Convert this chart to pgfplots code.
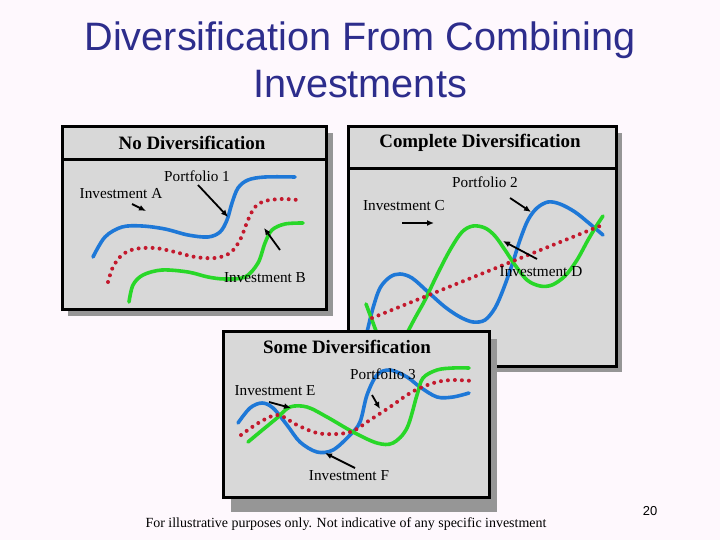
\documentclass[border=0pt]{standalone}
\usepackage{pgfplots}
\pgfplotsset{compat=1.18}
\usepackage{fontspec}
\setmainfont{Liberation Serif}
\newfontfamily\arialf{Liberation Sans}
\usetikzlibrary{arrows.meta}
\definecolor{bgc}{RGB}{254,248,253}
\definecolor{titleblue}{RGB}{45,45,140}
\definecolor{blueC}{RGB}{30,120,215}
\definecolor{greenC}{RGB}{40,215,40}
\definecolor{redC}{RGB}{195,25,45}
\definecolor{panelgray}{RGB}{216,216,216}
\definecolor{shadowgray}{RGB}{150,150,150}
\definecolor{barblue}{RGB}{40,40,130}
\definecolor{barpink}{RGB}{190,70,150}
\tikzset{
  curve/.style={line width=3.6bp, smooth, tension=0.55, line cap=round},
  dots/.style={redC, line width=4bp, dash pattern=on 0pt off 7bp, line cap=round, smooth, tension=0.55},
  arr/.style={line width=1.8bp, -{Latex[length=7bp,width=6bp]}},
  lab/.style={font=\fontsize{15.3}{18}\selectfont, inner sep=0pt},
  ptitle/.style={font=\bfseries\fontsize{19}{22}\selectfont, inner sep=0pt},
}
\begin{document}
\begin{tikzpicture}
\begin{axis}[
  scale only axis, width=720bp, height=540bp,
  xmin=0, xmax=720, ymin=0, ymax=540, y dir=reverse,
  hide axis, clip=false,
]
% background
\fill[bgc] (axis cs:0,0) rectangle (axis cs:720,540);
% title
\node[anchor=base, text=titleblue, font=\arialf\fontsize{39.8}{46}\selectfont, inner sep=0pt] at (axis cs:360,51) {Diversification From Combining};
\node[anchor=base, text=titleblue, font=\arialf\fontsize{39.8}{46}\selectfont, inner sep=0pt] at (axis cs:360,98) {Investments};
% gradient bars
\shade[left color=bgc, middle color=barblue, right color=bgc] (axis cs:0,112.5) rectangle (axis cs:720,118);
\shade[left color=bgc, middle color=barpink, right color=bgc] (axis cs:0,120) rectangle (axis cs:720,124.5);

% ---------- Panel 1 ----------
\fill[shadowgray] (axis cs:68,133) rectangle (axis cs:333,316);
\filldraw[fill=panelgray, draw=black, line width=3bp] (axis cs:62,127) rectangle (axis cs:326,309);
\draw[line width=3bp] (axis cs:62,160) -- (axis cs:326,160);
\node[ptitle] at (axis cs:192,143) {No Diversification};
\addplot[curve, blueC, no markers] coordinates {(93,257) (105,237) (122,227) (142,226) (165,229) (188,235) (208,237) (220,232) (227,220) (232,203) (238,188) (248,180) (265,177) (295,177)};
\addplot[dots, no markers] coordinates {(108,282) (113,267) (122,255) (135,249) (155,248) (175,252) (195,257) (215,258) (230,253) (240,240) (248,220) (255,207) (265,201) (282,199) (298,200)};
\addplot[curve, greenC, no markers] coordinates {(129,302) (133,285) (143,275) (162,270) (188,272) (208,277) (225,279) (245,277) (258,263) (265,243) (272,230) (285,224) (303,223)};
\node[lab] at (axis cs:197,176) {Portfolio 1};
\node[lab] at (axis cs:121,194) {Investment A};
\node[lab] at (axis cs:265,278) {Investment B};
\draw[arr] (axis cs:198,185) -- (axis cs:228,217);
\draw[arr] (axis cs:132,204) -- (axis cs:146,211);
\draw[arr] (axis cs:280,250) -- (axis cs:264,228);

% ---------- Panel 2 ----------
\fill[shadowgray] (axis cs:354,133) rectangle (axis cs:622,372);
\filldraw[fill=panelgray, draw=black, line width=3bp] (axis cs:348,127) rectangle (axis cs:616,366);
\draw[line width=3bp] (axis cs:348,169) -- (axis cs:616,169);
\node[ptitle] at (axis cs:480,143) {Complete Diversification};
\addplot[curve, blueC, no markers] coordinates {(364,345) (368,328) (373,308) (380,288) (390,277) (400,274) (412,278) (428,292) (445,307) (460,317) (473,322) (485,320) (495,308) (503,290) (512,265) (520,240) (528,220) (537,208) (548,202) (560,204) (575,212) (590,224) (603,235)};
\addplot[curve, greenC, no markers] coordinates {(366,304) (372,320) (378,335) (388,350) (398,348) (407,333) (415,318) (425,300) (437,275) (450,250) (462,232) (473,226) (485,228) (495,236) (505,250) (515,265) (527,280) (540,286) (552,285) (565,276) (577,260) (588,240) (597,225) (603,216)};
\addplot[dots, no markers] coordinates {(372,318) (486,272) (600,226)};
\node[lab] at (axis cs:485,182) {Portfolio 2};
\node[lab] at (axis cs:404,206) {Investment C};
\node[lab] at (axis cs:541,272) {Investment D};
\draw[arr] (axis cs:402,223) -- (axis cs:434,223);
\draw[arr] (axis cs:510,198) -- (axis cs:531,212);
\draw[arr] (axis cs:537,259) -- (axis cs:503,241);

% ---------- Panel 3 ----------
\fill[shadowgray] (axis cs:231,339) rectangle (axis cs:497,512);
\filldraw[fill=panelgray, draw=black, line width=3bp] (axis cs:223,331) rectangle (axis cs:489,497);
\node[ptitle] at (axis cs:347,347) {Some Diversification};
\addplot[curve, blueC, no markers] coordinates {(238,423) (250,408) (262,403) (273,408) (287,425) (300,442) (317,452) (333,450) (350,435) (360,422) (367,395) (377,375) (390,370) (407,377) (420,387) (437,397) (453,397) (469,393)};
\addplot[curve, greenC, no markers] coordinates {(248,442) (260,432) (277,418) (290,407) (307,407) (327,417) (353,432) (377,443) (393,443) (407,428) (417,395) (423,378) (437,370) (453,368) (469,368)};
\addplot[dots, no markers] coordinates {(241,435) (260,422) (278,415) (297,425) (317,433) (337,434) (353,431) (370,420) (390,407) (407,395) (420,388) (437,382) (453,380) (473,381)};
\node[lab] at (axis cs:383,374) {Portfolio 3};
\node[lab] at (axis cs:275,391) {Investment E};
\node[lab] at (axis cs:349,476) {Investment F};
\draw[arr] (axis cs:269,402) -- (axis cs:291,408);
\draw[arr] (axis cs:372,395) -- (axis cs:380,409);
\draw[arr] (axis cs:355,468) -- (axis cs:325,453);

% footer
\node[anchor=base, font=\fontsize{14}{16}\selectfont, inner sep=0pt] at (axis cs:346,527) {For illustrative purposes only. Not indicative of any specific investment};
\node[font=\arialf\fontsize{13}{15}\selectfont, inner sep=0pt] at (axis cs:650,511) {20};
\end{axis}
\end{tikzpicture}
\end{document}
